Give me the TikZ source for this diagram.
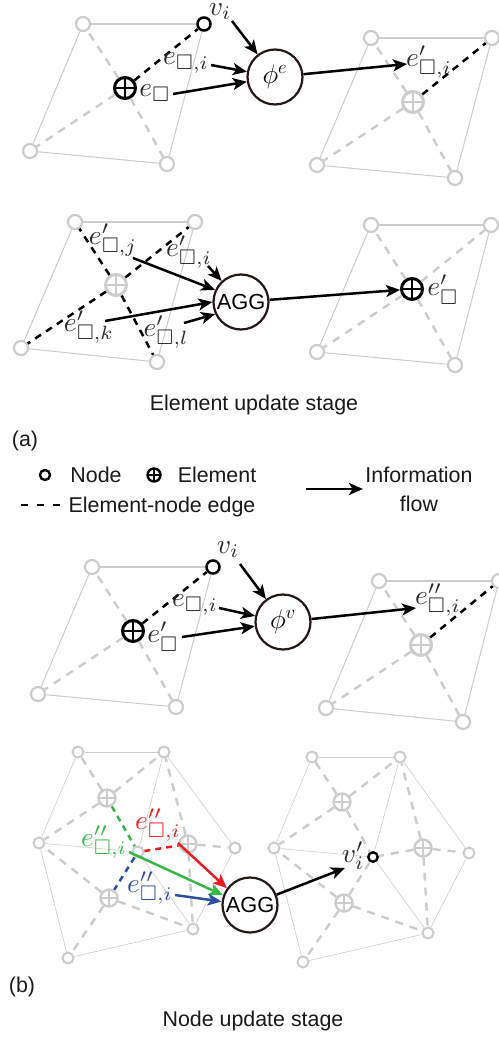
\documentclass[tikz,border=0pt]{standalone}
\usepackage{amssymb}
\usepackage{graphicx}
\usepackage{fontspec}
\setsansfont{Liberation Sans}
\usetikzlibrary{arrows.meta}
\definecolor{gline}{HTML}{CCCCCC}
\definecolor{inkc}{HTML}{231815}
\definecolor{mathk}{HTML}{2A2A2A}
\definecolor{gedge}{HTML}{39B54A}
\definecolor{redge}{HTML}{ED1C24}
\definecolor{bedge}{HTML}{2E4FA2}
\tikzset{
  gnode/.style={circle,draw=gline,line width=2.2pt,fill=white,minimum size=14pt,inner sep=0pt},
  knode/.style={circle,draw=black,line width=2.4pt,fill=white,minimum size=13pt,inner sep=0pt},
  tnode/.style={circle,draw=gline,line width=2pt,fill=white,minimum size=11pt,inner sep=0pt},
  elem/.style={circle,draw=#1,fill=white,line width=3pt,minimum size=21pt,inner sep=0pt,
    path picture={\draw[#1,line width=2.8pt]
      (path picture bounding box.north)--(path picture bounding box.south)
      (path picture bounding box.west)--(path picture bounding box.east);}},
  selem/.style={circle,draw=#1,fill=white,line width=2.4pt,minimum size=17pt,inner sep=0pt,
    path picture={\draw[#1,line width=2pt]
      (path picture bounding box.north)--(path picture bounding box.south)
      (path picture bounding box.west)--(path picture bounding box.east);}},
  lgelem/.style={circle,draw=black,fill=white,line width=2.4pt,minimum size=13pt,inner sep=0pt,
    path picture={\draw[black,line width=2.4pt]
      (path picture bounding box.north)--(path picture bounding box.south)
      (path picture bounding box.west)--(path picture bounding box.east);}},
  hub/.style={circle,draw=inkc,line width=2.2pt,fill=white,minimum size=55pt,inner sep=0pt,
    font=\sffamily\fontsize{21.8}{24}\selectfont},
  lab/.style={scale=2.75,inner sep=0pt,text=mathk},
  txt/.style={inner sep=0pt,font=\sffamily\fontsize{21.4}{24}\selectfont,text=black!90},
  thin edge/.style={draw=gline,line width=1pt},
  top edge/.style={draw=gline,line width=1.6pt},
  hair edge/.style={draw=gline,line width=.6pt},
  gdash/.style={draw=gline,line width=2.4pt,dash pattern=on 8pt off 7pt},
  kdash/.style={draw=black,line width=2.5pt,dash pattern=on 7pt off 6pt},
  cdash/.style={draw=#1,line width=2.5pt,dash pattern=on 6pt off 5pt},
  flow/.style={draw=#1,line width=2.5pt,-{Stealth[length=14pt,width=12pt,inset=3.5pt]}},
  flow/.default=black
}
% quadrilateral mesh: corner nodes and the thin outline
\newcommand{\qmesh}[5]{%
  \node[gnode] (#1-tl) at (#2) {};
  \node[gnode] (#1-tr) at (#3) {};
  \node[gnode] (#1-br) at (#4) {};
  \node[gnode] (#1-bl) at (#5) {};
  \draw[top edge] (#1-tl)--(#1-tr);
  \draw[thin edge] (#1-tr)--(#1-br);
  \draw[thin edge] (#1-br)--(#1-bl);
  \draw[thin edge] (#1-bl)--(#1-tl);
}
\newcommand{\qedges}[5]{%
  \draw[#2] (#1-c)--(#1-tl);
  \draw[#3] (#1-c)--(#1-tr);
  \draw[#4] (#1-c)--(#1-br);
  \draw[#5] (#1-c)--(#1-bl);
}
\newcommand{\hexouter}[1]{%
  \draw[hair edge] (#1-a)--(#1-b);
  \draw[hair edge] (#1-b)--(#1-d);
  \draw[hair edge] (#1-d)--(#1-e);
  \draw[hair edge] (#1-e)--(#1-f);
  \draw[hair edge] (#1-f)--(#1-c);
  \draw[hair edge] (#1-c)--(#1-a);
  \draw[hair edge] (#1-c)--(#1-v);
  \draw[hair edge] (#1-b)--(#1-v);
  \draw[hair edge] (#1-e)--(#1-v);
  \foreach \q in {a,b,c} \draw[gdash] (#1-e1)--(#1-\q);
  \foreach \q in {b,d,e} \draw[gdash] (#1-e2)--(#1-\q);
  \foreach \q in {c,e,f} \draw[gdash] (#1-e3)--(#1-\q);
}
\begin{document}
\begin{tikzpicture}[x=1pt,y=-1pt]
\useasboundingbox (0,0) rectangle (498,1038);

%% Panel 1
\qmesh{pa}{83,24}{204,24}{167,164}{30,151}
\node[elem=black] (pa-c) at (125,88) {};
\node[knode] (pa-vi) at (204,24) {};
\draw[top edge] (pa-tl)--(pa-vi);
\qedges{pa}{gdash}{kdash}{gdash}{gdash}
\qmesh{pb}{371,38}{492,38}{455,178}{317,165}
\node[elem=gline] (pb-c) at (413,102) {};
\qedges{pb}{gdash}{kdash}{gdash}{gdash}
\node[hub] (phie) at (275,77) {\scalebox{1.3}{$\phi^e$}};
\node[lab] (l1v) at (220,12) {$v_i$};
\node[lab] (l1ei) at (186,63) {$e_{\square,i}$};
\node[lab] (l1e) at (155,93) {$e_{\square}$};
\node[lab] (l1ep) at (429,62) {$e'_{\square,i}$};
\coordinate (t1a) at (232,21);
\coordinate (t1b) at (211,65);
\coordinate (t1c) at (173,94);
\coordinate (h1d) at (407,64);
\draw[flow] (t1a)--(phie);
\draw[flow] (t1b)--(phie);
\draw[flow] (t1c)--(phie);
\draw[flow] (phie)--(h1d);

%% Panel 2
\qmesh{pc}{75,222}{195,222}{157,362}{21,348}
\node[elem=gline] (pc-c) at (116,285) {};
\qedges{pc}{kdash}{kdash}{kdash}{kdash}
\qmesh{pd}{371,225}{491,225}{455,365}{317,352}
\node[elem=black] (pd-c) at (412,289) {};
\qedges{pd}{gdash}{gdash}{gdash}{gdash}
\node[hub] (agga) at (241,302) {AGG};
\node[lab] (l2j) at (113,240) {$e'_{\square,j}$};
\node[lab] (l2i) at (189,252) {$e'_{\square,i}$};
\node[lab] (l2k) at (89,327) {$e'_{\square,k}$};
\node[lab] (l2l) at (166,332) {$e'_{\square,l}$};
\node[lab] (l2e) at (443,290) {$e'_{\square}$};
\coordinate (t2j) at (133,258);
\coordinate (t2i) at (208,266);
\coordinate (t2k) at (105,321);
\coordinate (t2l) at (184,323);
\draw[flow] (t2j)--(agga.155);
\draw[flow] (t2i)--(agga);
\draw[flow] (t2k)--(agga.180);
\draw[flow] (t2l)--(agga.205);
\draw[flow] (agga)--(pd-c);

%% Legend and captions
\node[txt] (capa) at (254,405) {Element update stage};
\node[txt] (tagA) at (25,441) {(a)};
\node[circle,draw=black,line width=2.4pt,minimum size=10pt,inner sep=0pt] (lgn) at (45,475) {};
\node[txt] (lgnt) at (96,475) {Node};
\node[lgelem] (lge) at (154,475) {};
\node[txt] (lget) at (217,475) {Element};
\coordinate (lgd1) at (21,505);
\coordinate (lgd2) at (62,505);
\draw[draw=black,line width=2.5pt,dash pattern=on 7pt off 9pt] (lgd1)--(lgd2);
\node[txt] (lgdt) at (162,507) {Element-node edge};
\coordinate (lga1) at (306,489);
\coordinate (lga2) at (363,489);
\draw[flow] (lga1)--(lga2);
\node[txt] (lgi1) at (419,475) {Information};
\node[txt] (lgi2) at (419,504) {flow};

%% Panel 3
\qmesh{pe}{92,567}{213,567}{176,707}{38,694}
\node[elem=black] (pe-c) at (133,631) {};
\node[knode] (pe-vi) at (213,567) {};
\draw[top edge] (pe-tl)--(pe-vi);
\qedges{pe}{gdash}{kdash}{gdash}{gdash}
\qmesh{pf}{379,581}{499,581}{463,722}{326,708}
\node[elem=gline] (pf-c) at (421,645) {};
\qedges{pf}{gdash}{kdash}{gdash}{gdash}
\node[hub] (phiv) at (283,622) {\scalebox{1.3}{$\phi^v$}};
\node[lab] (l3v) at (228,550) {$v_i$};
\node[lab] (l3ei) at (195,605) {$e_{\square,i}$};
\node[lab] (l3e) at (163,637) {$e'_{\square}$};
\node[lab] (l3ep) at (438,600) {$e''_{\square,i}$};
\coordinate (t3a) at (240,564);
\coordinate (t3b) at (219,608);
\coordinate (t3c) at (182,637);
\coordinate (h3d) at (416,608);
\draw[flow] (t3a)--(phiv);
\draw[flow] (t3b)--(phiv);
\draw[flow] (t3c)--(phiv);
\draw[flow] (phiv)--(h3d);

%% Panel 4 left mesh
\node[tnode] (ma-a) at (78,752) {};
\node[tnode] (ma-b) at (164,752) {};
\node[tnode] (ma-c) at (39,843) {};
\node[tnode] (ma-v) at (138,852) {};
\node[tnode] (ma-d) at (235,848) {};
\node[tnode] (ma-e) at (193,929) {};
\node[tnode] (ma-f) at (68,958) {};
\node[selem=gline] (ma-e1) at (107,798) {};
\node[selem=gline] (ma-e2) at (188,844) {};
\node[selem=gline] (ma-e3) at (109,898) {};
\hexouter{ma}
\draw[cdash=gedge] (ma-e1)--(ma-v);
\draw[cdash=redge] (ma-v)--(ma-e2);
\draw[cdash=bedge] (ma-v)--(ma-e3);
\node[hub] (aggb) at (250,905) {AGG};
\node[lab,text=redge] (l4r) at (158,825) {$e''_{\square,i}$};
\node[lab,text=gedge] (l4g) at (104,842) {$e''_{\square,i}$};
\node[lab,text=bedge] (l4b) at (150,888) {$e''_{\square,i}$};
\coordinate (t4r) at (178,843);
\coordinate (t4g) at (129,852);
\coordinate (t4b) at (175,895);
\draw[flow=redge] (t4r)--(aggb.144);
\draw[flow=gedge] (t4g)--(aggb.160);
\draw[flow=bedge] (t4b)--(aggb.173);

%% Panel 4 right mesh
\node[tnode] (mb-a) at (312,757) {};
\node[tnode] (mb-b) at (400,757) {};
\node[tnode] (mb-c) at (274,848) {};
\node[circle,draw=black,line width=2.4pt,fill=white,minimum size=9.5pt,inner sep=0pt] (mb-v) at (373,857) {};
\node[tnode] (mb-d) at (469,853) {};
\node[tnode] (mb-e) at (428,933) {};
\node[tnode] (mb-f) at (303,962) {};
\node[selem=gline] (mb-e1) at (342,802) {};
\node[selem=gline] (mb-e2) at (423,848) {};
\node[selem=gline] (mb-e3) at (344,903) {};
\hexouter{mb}
\foreach \q in {e1,e2,e3} \draw[gdash] (mb-\q)--(mb-v);
\node[lab] (l4v) at (353,856) {$v'_i$};
\coordinate (h4o) at (345,868);
\draw[flow] (aggb)--(h4o);

\node[txt] (tagB) at (22,987) {(b)};
\node[txt] (capb) at (253,1021) {Node update stage};
\end{tikzpicture}
\end{document}
